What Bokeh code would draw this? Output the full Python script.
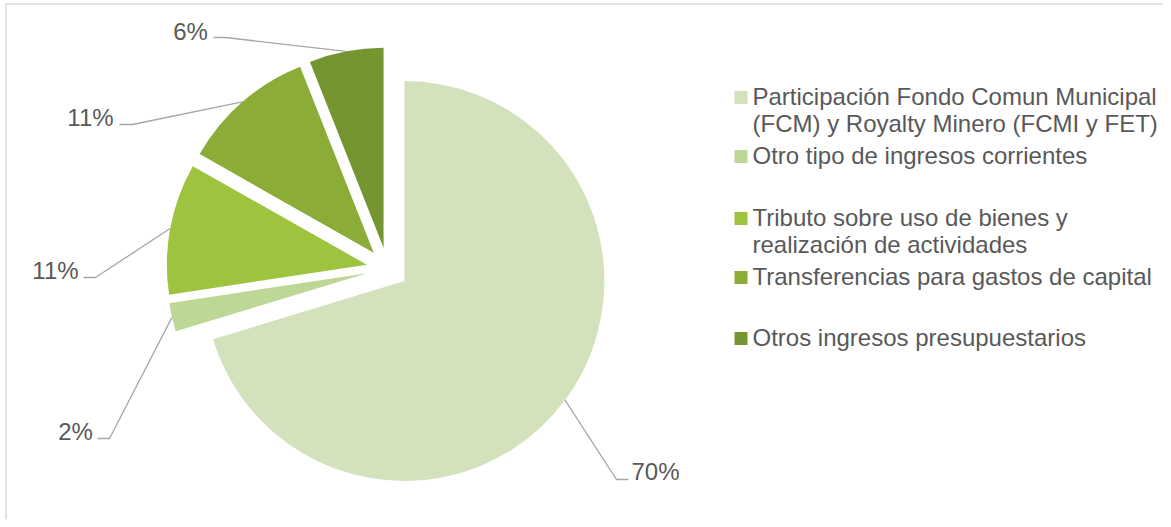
import math
from bokeh.plotting import figure
from bokeh.models import Range1d, ColumnDataSource
from bokeh.core.properties import value
from bokeh.embed import file_html
from bokeh.resources import INLINE

# ---------------- data ----------------
categories = [
    "Participación Fondo Comun Municipal\n(FCM) y Royalty Minero (FCMI y FET)",
    "Otro tipo de ingresos corrientes",
    "Tributo sobre uso de bienes y\nrealización de actividades",
    "Transferencias para gastos de capital",
    "Otros ingresos presupuestarios",
]
shares = [70.3, 2.3, 10.6, 10.8, 6.0]
colors = ["#D3E2BD", "#BDD796", "#9DC33F", "#8BAD37", "#759530"]

# ---------------- layout (picture pixels) ----------------
W, H = 1163, 519
def sy(y):
    return H - y

CX, CY = 387, 268      # pie centre
R = 200                # radius
EXPLODE = 21           # explosion distance

label_xy = [(655, 471), (75, 431), (55, 270), (90, 117), (190, 31)]
elbow_end = [((616, 479), (628, 479)), ((109, 438), (97, 438)),
             ((95, 277), (83, 277)), ((132, 124), (119, 124)),
             ((225, 37), (213, 37))]

legend_x_sq = 740.5
legend_x_txt = 752
legend_first_y = [96, 155, 217, 276, 337]
line_gap = 27

font = value("Liberation Sans")
txt_color = "#595959"
fsize = "24px"

p = figure(width=W, height=H, output_backend="svg", toolbar_location=None,
           x_range=Range1d(0, W), y_range=Range1d(0, H),
           min_border=0)
p.axis.visible = False
p.grid.visible = False
p.outline_line_color = None
p.background_fill_color = "white"

total = sum(shares)
theta0 = 0.0
xs, ys, starts, ends = [], [], [], []
lead_x, lead_y = [], []
for i, s in enumerate(shares):
    span = 360.0 * s / total
    t1 = theta0 + span
    mid = math.radians(theta0 + span / 2)
    ax = CX + EXPLODE * math.sin(mid)
    ay = sy(CY) + EXPLODE * math.cos(mid)
    xs.append(ax)
    ys.append(ay)
    starts.append(math.radians(90 - t1))
    ends.append(math.radians(90 - theta0))
    px = ax + R * math.sin(mid)
    py = ay + R * math.cos(mid)
    (e1, e2) = elbow_end[i]
    lead_x.append([px, e1[0], e2[0]])
    lead_y.append([py, sy(e1[1]), sy(e2[1])])
    theta0 = t1

src = ColumnDataSource(dict(x=xs, y=ys, start=starts, end=ends, color=colors))
p.wedge(x="x", y="y", radius=R, start_angle="start", end_angle="end",
        fill_color="color", line_color=None, source=src)

p.multi_line(xs=lead_x, ys=lead_y, line_color="#A6A6A6", line_width=1.3)

pct = [f"{round(s)}%" for s in shares]
p.text(x=[l[0] for l in label_xy], y=[sy(l[1]) for l in label_xy], text=pct,
       text_font=font, text_font_size=fsize, text_color=txt_color,
       text_align="center", text_baseline="middle")

# legend
sq_y = [sy(y + 1) for y in legend_first_y]
p.rect(x=[legend_x_sq] * len(categories), y=sq_y, width=13, height=13,
       fill_color=colors, line_color=None)
lx, ly, lt = [], [], []
for i, cat in enumerate(categories):
    for j, line in enumerate(cat.split("\n")):
        lx.append(legend_x_txt)
        ly.append(sy(legend_first_y[i] + j * line_gap))
        lt.append(line)
p.text(x=lx, y=ly, text=lt, text_font=font, text_font_size=fsize,
       text_color=txt_color, text_align="left", text_baseline="middle")

# chart frame (top and left edges visible)
p.line(x=[5.5, W], y=[sy(3.5), sy(3.5)], line_color="#D9D9D9", line_width=1.5)
p.line(x=[5.5, 5.5], y=[sy(3.5), 0], line_color="#D9D9D9", line_width=1.5)

open("out.html", "w").write(file_html(p, INLINE))
